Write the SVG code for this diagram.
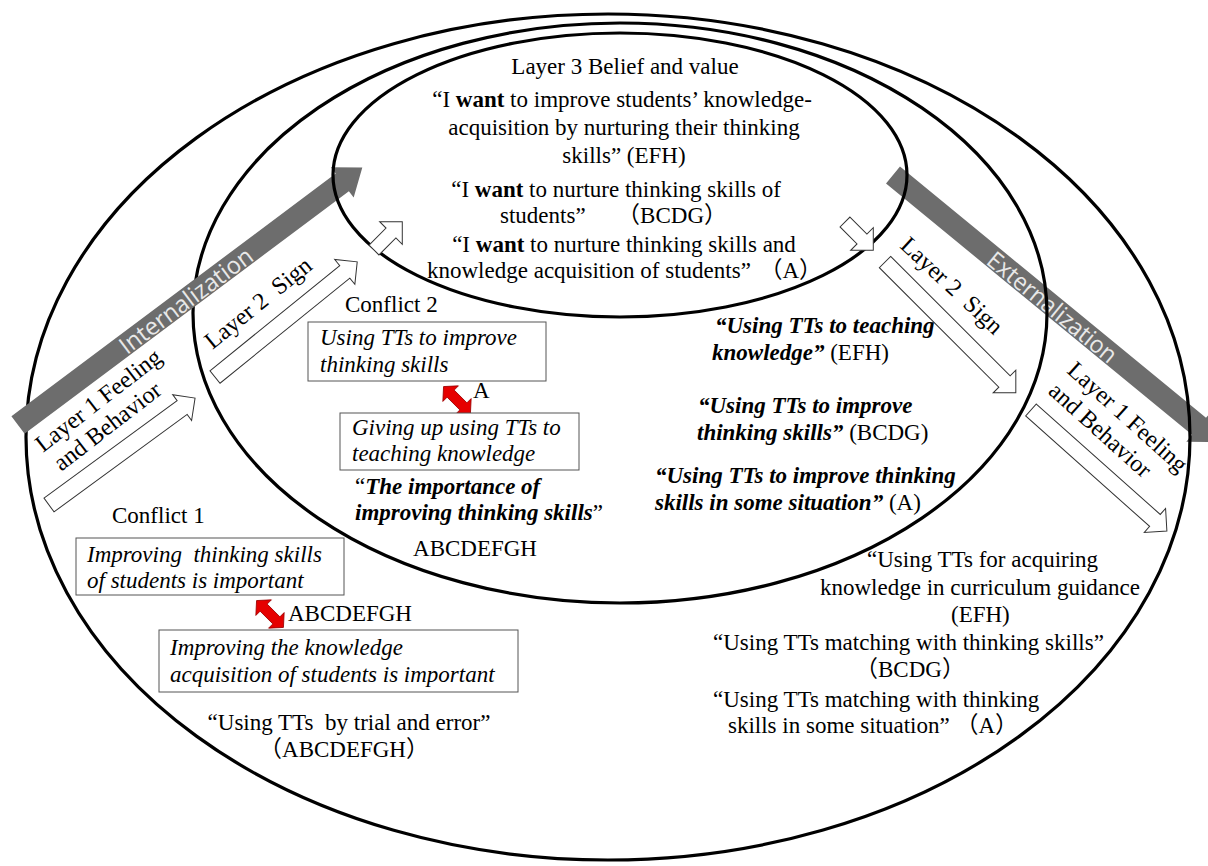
<svg xmlns="http://www.w3.org/2000/svg" width="1208" height="866" viewBox="0 0 1208 866">
<style>
.t{font-family:"Liberation Serif","Times New Roman",serif;font-size:23px;fill:#000}
.cjk{font-family:"Liberation Serif","Noto Sans CJK SC",serif}
.r{font-size:24px}
.i{font-style:italic}
.b{font-weight:bold}
.bi{font-weight:bold;font-style:italic}
.ell{fill:none;stroke:#000;stroke-width:3.2}
.box{fill:#fff;stroke:#555;stroke-width:1}
.big{fill:#6d6d6d}
.gt{font-family:"Open Sans","Noto Sans","Liberation Sans",sans-serif;font-size:24px;fill:#e8e8e8}
.oa{fill:#fff;stroke:#333;stroke-width:1}
.red{fill:#e60000;stroke:#9a0000;stroke-width:0.8}
</style>
<defs>
<polygon id="dbl" points="-19,0 -9,-11 -9,-5 9,-5 9,-11 19,0 9,11 9,5 -9,5 -9,11"/>
</defs>
<rect width="1208" height="866" fill="#fff"/>

<g id="connectors">
  <g id="externalization" transform="translate(893,175) rotate(39.4)">
    <polygon class="big" points="0,-11 396,-11 396,-20 421,0 396,20 396,11 0,11"/>
    <text class="gt" x="207" y="0" text-anchor="middle" dominant-baseline="central" textLength="160" lengthAdjust="spacingAndGlyphs">Externalization</text>
  </g>
</g>

<g id="layer1">
  <ellipse class="ell" cx="608" cy="437" rx="582" ry="423"/>
</g>
<g id="layer2">
  <ellipse class="ell" cx="620" cy="313" rx="427" ry="290"/>
</g>

<g id="connectors-left">
  <g id="internalization" transform="translate(18,425) rotate(-36.8)">
    <polygon class="big" points="0,-11 405,-11 405,-19 430,0 405,19 405,11 0,11"/>
    <text class="gt" x="209" y="0" text-anchor="middle" dominant-baseline="central" textLength="160" lengthAdjust="spacingAndGlyphs">Internalization</text>
  </g>
</g>

<g id="layer3">
  <ellipse class="ell" cx="620" cy="175" rx="287" ry="142"/>
</g>

<g id="flow-arrows">
  <polygon class="oa" transform="translate(49,505) rotate(-36.2)" points="0,-8.5 165,-8.5 165,-16 181,0 165,16 165,8.5 0,8.5"/>
  <polygon class="oa" transform="translate(215,377) rotate(-39)" points="0,-8 167,-8 167,-16 183,0 167,16 167,8 0,8"/>
  <polygon class="oa" transform="translate(374,250) rotate(-45)" points="0,-7 24,-7 24,-16 40,0 24,16 24,7 0,7"/>
  <polygon class="oa" transform="translate(845,222) rotate(45)" points="0,-7 24,-7 24,-16 40,0 24,16 24,7 0,7"/>
  <polygon class="oa" transform="translate(885,262) rotate(45)" points="0,-8 169,-8 169,-16 185,0 169,16 169,8 0,8"/>
  <polygon class="oa" transform="translate(1031,410) rotate(41.7)" points="0,-8 166,-8 166,-16 182,0 166,16 166,8 0,8"/>
</g>

<g id="arrow-labels">
  <g transform="translate(43,453) rotate(-37.7)">
    <text class="t r" x="0" y="0">Layer 1 Feeling</text>
    <text class="t r" x="3" y="26">and Behavior</text>
  </g>
  <text class="t r" transform="translate(263,309) rotate(-39)" text-anchor="middle">Layer 2&#160; Sign</text>
  <text class="t r" transform="translate(899,247) rotate(43)">Layer 2&#160; Sign</text>
  <g transform="translate(1066,372) rotate(42)">
    <text class="t r" x="0" y="0">Layer 1 Feeling</text>
    <text class="t r" x="0" y="28">and Behavior</text>
  </g>
</g>

<g id="layer3-text">
  <text class="t" x="625" y="74" text-anchor="middle">Layer 3 Belief and value</text>
  <text class="t" x="622" y="107" text-anchor="middle">“I <tspan class="b">want</tspan> to improve students’ knowledge-</text>
  <text class="t" x="624" y="135" text-anchor="middle">acquisition by nurturing their thinking</text>
  <text class="t" x="624" y="163" text-anchor="middle">skills” (EFH)</text>
  <text class="t" x="616" y="197" text-anchor="middle">“I <tspan class="b">want</tspan> to nurture thinking skills of</text>
  <text class="t" x="500" y="223">students”</text>
  <text class="t cjk" x="727" y="223" text-anchor="end">（BCDG）</text>
  <text class="t" x="624" y="252" text-anchor="middle">“I <tspan class="b">want</tspan> to nurture thinking skills and</text>
  <text class="t" x="427" y="278">knowledge acquisition of students”</text>
  <text class="t cjk" x="822" y="278" text-anchor="end">（A）</text>
</g>

<g id="conflict2">
  <text class="t" x="345" y="312">Conflict 2</text>
  <rect class="box" x="308" y="322" width="238" height="59"/>
  <text class="t i" x="320" y="345">Using TTs to improve</text>
  <text class="t i" x="320" y="372">thinking skills</text>
  <use href="#dbl" class="red" transform="translate(457,400) rotate(45)"/>
  <text class="t" x="473" y="398">A</text>
  <rect class="box" x="340" y="413" width="239" height="57"/>
  <text class="t i" x="352" y="435">Giving up using TTs to</text>
  <text class="t i" x="352" y="461">teaching knowledge</text>
</g>

<g id="layer2-left-text">
  <text class="t" x="355" y="494">“<tspan class="bi">The importance of</tspan></text>
  <text class="t" x="355" y="520"><tspan class="bi">improving thinking skills</tspan>”</text>
  <text class="t" x="475" y="556" text-anchor="middle">ABCDEFGH</text>
</g>

<g id="layer2-right-text">
  <text class="t bi" x="715" y="333">“Using TTs to teaching</text>
  <text class="t" x="712" y="360"><tspan class="bi">knowledge”</tspan> (EFH)</text>
  <text class="t bi" x="698" y="413">“Using TTs to improve</text>
  <text class="t" x="697" y="440"><tspan class="bi">thinking skills”</tspan> (BCDG)</text>
  <text class="t bi" x="655" y="483">“Using TTs to improve thinking</text>
  <text class="t" x="655" y="510"><tspan class="bi">skills in some situation”</tspan> (A)</text>
</g>

<g id="conflict1">
  <text class="t" x="112" y="523">Conflict 1</text>
  <rect class="box" x="76" y="538" width="268" height="57"/>
  <text class="t i" x="87" y="562">Improving&#160; thinking skills</text>
  <text class="t i" x="87" y="588">of students is important</text>
  <use href="#dbl" class="red" transform="translate(270,614) rotate(45)"/>
  <text class="t" x="288" y="621">ABCDEFGH</text>
  <rect class="box" x="159" y="630" width="359" height="62"/>
  <text class="t i" x="170" y="655">Improving the knowledge</text>
  <text class="t i" x="170" y="682">acquisition of students is important</text>
</g>

<g id="layer1-left-text">
  <text class="t" x="349" y="730" text-anchor="middle">“Using TTs&#160; by trial and error”</text>
  <text class="t cjk" x="344" y="757" text-anchor="middle">（ABCDEFGH）</text>
</g>

<g id="layer1-right-text">
  <text class="t" x="867" y="567">“Using TTs for acquiring</text>
  <text class="t" x="820" y="595">knowledge in curriculum guidance</text>
  <text class="t" x="951" y="622">(EFH)</text>
  <text class="t" x="713" y="650">“Using TTs matching with thinking skills”</text>
  <text class="t cjk" x="855" y="677">（BCDG）</text>
  <text class="t" x="713" y="707">“Using TTs matching with thinking</text>
  <text class="t" x="728" y="733">skills in some situation”&#160;<tspan class="cjk">（A）</tspan></text>
</g>
</svg>
